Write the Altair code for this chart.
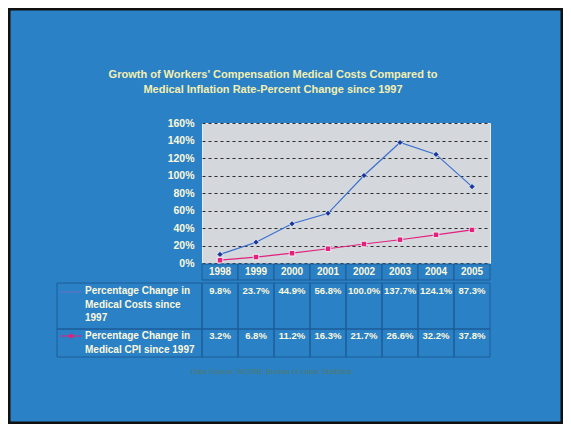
import altair as alt
import pandas as pd

# ---------------- data ----------------
years = ["1998", "1999", "2000", "2001", "2002", "2003", "2004", "2005"]
medical_costs = [9.8, 23.7, 44.9, 56.8, 100.0, 137.7, 124.1, 87.3]
medical_cpi = [3.2, 6.8, 11.2, 16.3, 21.7, 26.6, 32.2, 37.8]
series_names = ["Medical Costs", "Medical CPI"]
row_labels = ["Percentage Change in\nMedical Costs since\n1997",
              "Percentage Change in\nMedical CPI since 1997"]
y_ticks = [0, 20, 40, 60, 80, 100, 120, 140, 160]
title_lines = "Growth of Workers' Compensation Medical Costs Compared to\nMedical Inflation Rate-Percent Change since 1997"
source_text = "Data Source: WCIRB; Bureau of Labor Statistics"

df = pd.DataFrame({
    "year": years * 2,
    "series": [series_names[0]] * len(years) + [series_names[1]] * len(years),
    "value": medical_costs + medical_cpi,
})

FONT = "Liberation Sans"
TXT = "#fbf8dc"
BLUE_LINE = "#3a6fd0"
BLUE_PT = "#17379a"
PINK = "#e3207d"
CELL = "#1c5d98"

x_enc = alt.X("year:O", sort=years, scale=alt.Scale(paddingInner=0, paddingOuter=0),
              axis=alt.Axis(title=None, labelAngle=0, labelAlign="center", domain=False,
                            ticks=False, labelPadding=3, labelFont=FONT,
                            labelFontWeight="bold", labelFontSize=10, labelColor=TXT))
y_enc = alt.Y("value:Q", scale=alt.Scale(domain=[0, 160], nice=False),
              axis=alt.Axis(title=None, values=y_ticks, labelExpr="datum.value + '%'",
                            domain=False, ticks=False, labelPadding=8, labelFont=FONT,
                            labelFontWeight="bold", labelFontSize=10.5, labelColor=TXT,
                            labelOverlap=False,
                            grid=True, gridColor="#000000", gridDash=[3, 3],
                            gridOpacity=0.8, gridWidth=1))
color_enc = alt.Color("series:N", scale=alt.Scale(domain=series_names,
                                                  range=[BLUE_LINE, PINK]), legend=None)

base = alt.Chart(df)
costs = base.transform_filter(alt.datum.series == series_names[0])
cpi = base.transform_filter(alt.datum.series == series_names[1])

lines = base.mark_line(strokeWidth=1.2).encode(x=x_enc, y=y_enc, color=color_enc)
pts_costs = costs.mark_point(
    shape="diamond", filled=True, size=38, color=BLUE_PT, stroke="#ffffff", strokeWidth=0.8,
    opacity=1).encode(x=x_enc, y=y_enc)
pts_cpi = cpi.mark_point(
    shape="square", filled=True, size=30, color=PINK, stroke="#ffffff", strokeWidth=0.8,
    opacity=1).encode(x=x_enc, y=y_enc)

# table cells
year_cells = costs.mark_rect(fill="#2b7fc3", stroke=CELL, strokeWidth=1).encode(
    x=x_enc, y=alt.value(141), y2=alt.value(157))
row1_cells = costs.mark_rect(fillOpacity=0, stroke=CELL, strokeWidth=1).encode(
    x=x_enc, y=alt.value(160), y2=alt.value(206))
row2_cells = cpi.mark_rect(fillOpacity=0, stroke=CELL, strokeWidth=1).encode(
    x=x_enc, y=alt.value(206), y2=alt.value(234))
lab_df = pd.DataFrame({"label": row_labels})
lab1_src = alt.Chart(lab_df).transform_filter(alt.datum.label == row_labels[0])
lab2_src = alt.Chart(lab_df).transform_filter(alt.datum.label == row_labels[1])
lab1_cell = lab1_src.mark_rect(fillOpacity=0, stroke=CELL, strokeWidth=1).encode(
    x=alt.value(-145), x2=alt.value(0), y=alt.value(160), y2=alt.value(206))
lab2_cell = lab2_src.mark_rect(fillOpacity=0, stroke=CELL, strokeWidth=1).encode(
    x=alt.value(-145), x2=alt.value(0), y=alt.value(206), y2=alt.value(234))

# table values
val_text = dict(font=FONT, fontWeight="bold", fontSize=9.5, color=TXT, baseline="middle")
row1_vals = costs.transform_calculate(
    lbl="format(datum.value, '.1f') + '%'").mark_text(**val_text).encode(
    x=x_enc, y=alt.value(168), text="lbl:N")
row2_vals = cpi.transform_calculate(
    lbl="format(datum.value, '.1f') + '%'").mark_text(**val_text).encode(
    x=x_enc, y=alt.value(213), text="lbl:N")

lab_text = dict(font=FONT, fontWeight="bold", fontSize=10, color=TXT, align="left",
                baseline="top", lineBreak="\n", lineHeight=13.5)
lab1 = lab1_src.mark_text(**lab_text).encode(x=alt.value(-117), y=alt.value(163), text="label:N")
lab2 = lab2_src.mark_text(**lab_text).encode(x=alt.value(-117), y=alt.value(208), text="label:N")

# legend swatches
sw1 = lab1_src.mark_rule(color="#6a6fc8", strokeWidth=1).encode(
    x=alt.value(-142), x2=alt.value(-120), y=alt.value(169))
sw2 = lab2_src.mark_rule(color=PINK, strokeWidth=1).encode(
    x=alt.value(-142), x2=alt.value(-120), y=alt.value(213))
sw2p = lab2_src.mark_point(shape="circle", filled=True, size=22, color=PINK, opacity=1).encode(
    x=alt.value(-131), y=alt.value(213))

# title & source
title = alt.Chart(pd.DataFrame({"t": [title_lines]})).mark_text(
    font=FONT, fontWeight="bold", fontSize=11, color="#f3efb0", align="center",
    baseline="middle", lineBreak="\n", lineHeight=15).encode(
    x=alt.value(71), y=alt.value(-48), text="t:N")
source = alt.Chart(pd.DataFrame({"t": [source_text]})).mark_text(
    font=FONT, fontSize=7.5, color="#4f7a6c", align="left", baseline="middle").encode(
    x=alt.value(-11), y=alt.value(249), text="t:N")

# frame border of the slide
frame = alt.Chart(pd.DataFrame({"t": [0]})).mark_rect(
    fillOpacity=0, stroke="#111111", strokeWidth=3).encode(
    x=alt.value(-193), x2=alt.value(360), y=alt.value(-114), y2=alt.value(300))

chart = alt.layer(
    frame, year_cells, row1_cells, row2_cells, lab1_cell, lab2_cell,
    lines, pts_costs, pts_cpi,
    row1_vals, row2_vals, lab1, lab2, sw1, sw2, sw2p, title, source,
).properties(
    width=288, height=140,
    autosize=alt.AutoSizeParams(type="none"),
    padding={"left": 194, "top": 115, "right": 73, "bottom": 161},
    background="#2b81c5",
).configure_view(
    fill="#d4d8dc", stroke="#e8ecef", strokeWidth=1,
)

chart.save("out.html", embed_options={"renderer": "svg", "actions": False})
